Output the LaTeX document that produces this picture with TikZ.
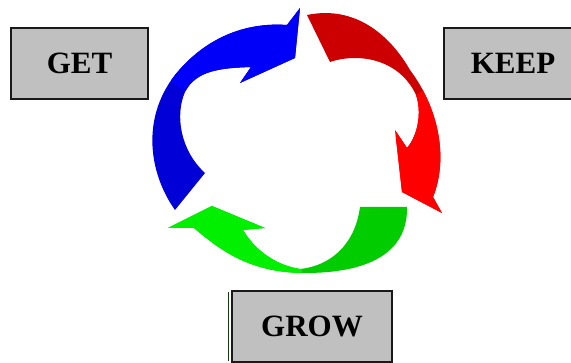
\documentclass[tikz,border=0pt]{standalone}
\usepackage{fontspec}
\setmainfont{Liberation Serif}
\definecolor{boxgray}{RGB}{192,192,192}
\definecolor{boxline}{RGB}{25,25,25}
\definecolor{blueA}{RGB}{0,0,250}
\definecolor{blueB}{RGB}{0,0,215}
\definecolor{redA}{RGB}{204,0,0}
\definecolor{redB}{RGB}{255,0,0}
\definecolor{greenA}{RGB}{0,240,0}
\definecolor{greenB}{RGB}{0,204,0}
\tikzset{
  labelbox/.style={draw=boxline, line width=1.8pt, fill=boxgray, inner sep=0pt,
    font=\fontsize{31}{31}\selectfont\bfseries, text=black},
}
\begin{document}
\begin{tikzpicture}[x=1pt,y=-1pt]
\useasboundingbox (0,0) rectangle (571,363);
\clip (0,0) rectangle (571,363);
\fill[white] (0,0) rectangle (571,363);

% blue arrow
\def\bluepath{(175,210) .. controls (150,175) and (140,120) .. (175,75)
  .. controls (205,38) and (245,22) .. (287,25) -- (300,8) -- (295,58) -- (240,83) -- (251,67)
  .. controls (222,68) and (196,70) .. (185,92)
  .. controls (175,115) and (180,150) .. (205,173) -- cycle}
\fill[blueB] \bluepath;
\begin{scope}
  \clip \bluepath;
  \fill[blueA] (120,48) -- (205,104) -- (320,104) -- (320,0) -- (120,0) -- cycle;
\end{scope}

% red arrow
\def\redpath{(307,15) -- (330,62) .. controls (360,52) and (400,60) .. (416,95)
  .. controls (422,112) and (418,135) .. (407,148) -- (395,130) -- (402,192) -- (442,213) -- (433,197)
  .. controls (448,160) and (440,110) .. (410,70)
  .. controls (390,35) and (355,5) .. (307,15) -- cycle}
\fill[redA] \redpath;
\begin{scope}
  \clip \redpath;
  \fill[redB] (400,106) -- (450,72) -- (500,72) -- (500,250) -- (380,250) -- cycle;
\end{scope}

% green arrow
\def\greenpath{(212,206) -- (265,228) -- (243,230) .. controls (255,250) and (275,265) .. (300,269)
  .. controls (330,266) and (355,245) .. (360,207) -- (407,207)
  .. controls (408,255) and (365,273) .. (305,273)
  .. controls (250,273) and (220,250) .. (194,228) -- (168,228) -- cycle}
\fill[greenB] \greenpath;
\begin{scope}
  \clip \greenpath;
  \fill[greenA] (150,190) rectangle (302,290);
\end{scope}

% boxes
\node[labelbox, minimum width=137pt, minimum height=71pt] (get) at (79.5,63.5) {GET};
\node[labelbox, minimum width=138pt, minimum height=71pt] (keep) at (513,63.5) {KEEP};
\node[labelbox, minimum width=160pt, minimum height=71pt] (grow) at (312,326.5) {GROW};
\draw[line width=1.2pt, color={rgb,255:red,20;green,60;blue,20}]
  ([xshift=-3pt,yshift=-2pt]grow.north west) -- ([xshift=-3pt,yshift=2pt]grow.south west);
\end{tikzpicture}
\end{document}
